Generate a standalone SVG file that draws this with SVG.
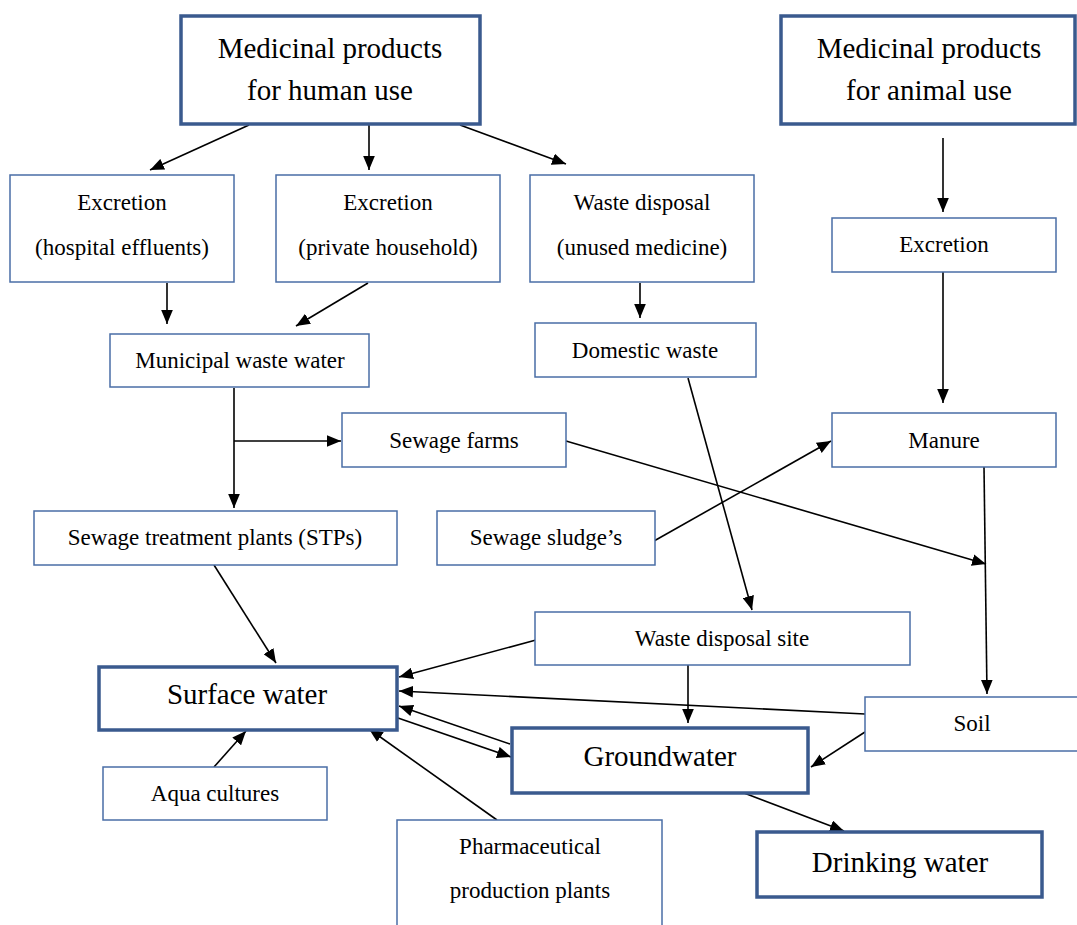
<svg xmlns="http://www.w3.org/2000/svg" width="1077" height="925" viewBox="0 0 1077 925">
<style>
  .box { fill: #ffffff; stroke: #4a6ea6; stroke-width: 1.5; }
  .thick { fill: #ffffff; stroke: #3a5a8e; stroke-width: 3.5; }
  .t { font-family: "Liberation Serif", "Times New Roman", serif; font-size: 23px; fill: #000; text-anchor: middle; }
  .big { font-family: "Liberation Serif", "Times New Roman", serif; font-size: 29px; fill: #000; text-anchor: middle; }
  .a { stroke: #000; stroke-width: 1.6; fill: none; marker-end: url(#arr); }
</style>
<defs>
  <marker id="arr" viewBox="0 0 12 10" refX="12" refY="5" markerUnits="userSpaceOnUse" markerWidth="14" markerHeight="12" orient="auto">
    <path d="M0,0 L12,5 L0,10 z" fill="#000"/>
  </marker>
</defs>
<rect width="1077" height="925" fill="#ffffff"/>

<g id="connectors">
  <line class="a" x1="249" y1="125" x2="150" y2="170"/>
  <line class="a" x1="369" y1="125" x2="369" y2="170"/>
  <line class="a" x1="460" y1="125" x2="566" y2="164"/>
  <line class="a" x1="943" y1="138" x2="943" y2="212"/>
  <line class="a" x1="167" y1="283" x2="167" y2="324"/>
  <line class="a" x1="368" y1="283" x2="296" y2="326"/>
  <line class="a" x1="640" y1="283" x2="640" y2="318"/>
  <line class="a" x1="943" y1="272" x2="943" y2="403"/>
  <line class="a" x1="234" y1="388" x2="234" y2="508"/>
  <line class="a" x1="234" y1="441" x2="341" y2="441"/>
  <line class="a" x1="566" y1="441" x2="986" y2="564"/>
  <line class="a" x1="654" y1="541" x2="831" y2="441"/>
  <line class="a" x1="688" y1="378" x2="752" y2="610"/>
  <line class="a" x1="984" y1="467" x2="987" y2="694"/>
  <line class="a" x1="214" y1="565" x2="276" y2="663"/>
  <line class="a" x1="536" y1="640" x2="399" y2="677"/>
  <line class="a" x1="865" y1="714" x2="399" y2="691"/>
  <line class="a" x1="510" y1="744" x2="399" y2="706"/>
  <line class="a" x1="398" y1="718" x2="511" y2="757"/>
  <line class="a" x1="688" y1="665" x2="688" y2="723"/>
  <line class="a" x1="865" y1="732" x2="811" y2="767"/>
  <line class="a" x1="744" y1="793" x2="844" y2="831"/>
  <line class="a" x1="214" y1="767" x2="246" y2="731"/>
  <line class="a" x1="497" y1="820" x2="369" y2="729"/>
</g>

<g id="human">
  <rect class="thick" x="181" y="16" width="299" height="108"/>
  <text class="big" x="330" y="58">Medicinal products</text>
  <text class="big" x="330" y="100">for human use</text>
</g>
<g id="animal">
  <rect class="thick" x="781" y="16" width="294" height="108"/>
  <text class="big" x="929" y="58">Medicinal products</text>
  <text class="big" x="929" y="100">for animal use</text>
</g>
<g id="excretion-hospital">
  <rect class="box" x="10" y="175" width="224" height="107"/>
  <text class="t" x="122" y="210">Excretion</text>
  <text class="t" x="122" y="255">(hospital effluents)</text>
</g>
<g id="excretion-household">
  <rect class="box" x="276" y="175" width="224" height="107"/>
  <text class="t" x="388" y="210">Excretion</text>
  <text class="t" x="388" y="255">(private household)</text>
</g>
<g id="waste-disposal">
  <rect class="box" x="530" y="175" width="224" height="107"/>
  <text class="t" x="642" y="210">Waste disposal</text>
  <text class="t" x="642" y="255">(unused medicine)</text>
</g>
<g id="excretion-animal">
  <rect class="box" x="832" y="218" width="224" height="54"/>
  <text class="t" x="944" y="252">Excretion</text>
</g>
<g id="municipal">
  <rect class="box" x="110" y="334" width="259" height="53"/>
  <text class="t" x="240" y="368">Municipal waste water</text>
</g>
<g id="domestic">
  <rect class="box" x="535" y="323" width="221" height="54"/>
  <text class="t" x="645" y="358">Domestic waste</text>
</g>
<g id="sewage-farms">
  <rect class="box" x="342" y="413" width="224" height="54"/>
  <text class="t" x="454" y="448">Sewage farms</text>
</g>
<g id="manure">
  <rect class="box" x="832" y="413" width="224" height="54"/>
  <text class="t" x="944" y="448">Manure</text>
</g>
<g id="stps">
  <rect class="box" x="34" y="511" width="363" height="54"/>
  <text class="t" x="215" y="545">Sewage treatment plants (STPs)</text>
</g>
<g id="sludge">
  <rect class="box" x="437" y="511" width="218" height="54"/>
  <text class="t" x="546" y="545">Sewage sludge’s</text>
</g>
<g id="disposal-site">
  <rect class="box" x="535" y="612" width="375" height="53"/>
  <text class="t" x="722" y="646">Waste disposal site</text>
</g>
<g id="surface-water">
  <rect class="thick" x="99" y="667" width="298" height="63"/>
  <text class="big" x="247" y="704">Surface water</text>
</g>
<g id="soil">
  <rect class="box" x="865" y="697" width="215" height="54"/>
  <text class="t" x="972" y="731">Soil</text>
</g>
<g id="groundwater">
  <rect class="thick" x="512" y="728" width="296" height="65"/>
  <text class="big" x="660" y="766">Groundwater</text>
</g>
<g id="aqua">
  <rect class="box" x="103" y="767" width="224" height="53"/>
  <text class="t" x="215" y="801">Aqua cultures</text>
</g>
<g id="pharma">
  <rect class="box" x="397" y="820" width="265" height="120"/>
  <text class="t" x="530" y="854">Pharmaceutical</text>
  <text class="t" x="530" y="898">production plants</text>
</g>
<g id="drinking">
  <rect class="thick" x="757" y="832" width="285" height="65"/>
  <text class="big" x="900" y="872">Drinking water</text>
</g>
</svg>
